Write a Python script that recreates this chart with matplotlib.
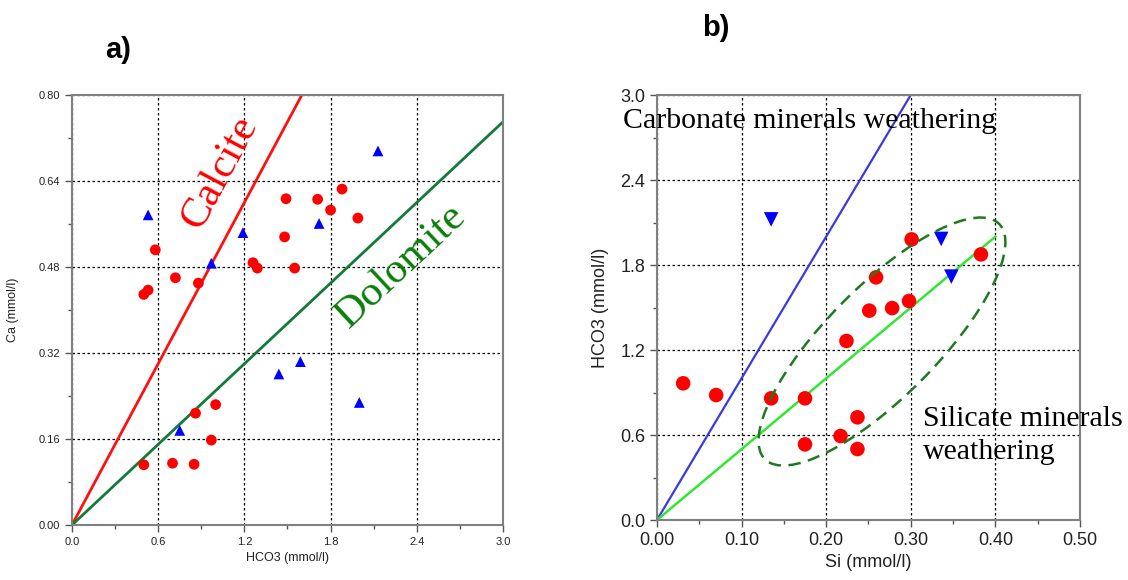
import numpy as np
import matplotlib
matplotlib.use("Agg")
import matplotlib.pyplot as plt
from matplotlib.patches import Ellipse
from matplotlib.ticker import MultipleLocator

plt.rcParams['font.family'] = ['Liberation Sans', 'DejaVu Sans']

# a) Ca vs HCO3
hco3_red = [0.50, 0.70, 0.85, 0.97, 0.86, 1.00, 0.50, 0.53, 0.72, 0.88, 0.58,
            1.26, 1.29, 1.55, 1.48, 1.49, 1.71, 1.88, 1.80, 1.99]
ca_red = [0.112, 0.115, 0.113, 0.158, 0.208, 0.224, 0.429, 0.437, 0.460, 0.450, 0.512,
          0.488, 0.478, 0.478, 0.536, 0.607, 0.606, 0.625, 0.586, 0.571]
hco3_blue = [0.53, 0.97, 1.19, 1.72, 2.13, 0.75, 1.44, 1.59, 2.00]
ca_blue = [0.577, 0.487, 0.544, 0.561, 0.696, 0.176, 0.281, 0.304, 0.228]
calcite_slope = 0.5
dolomite_slope = 0.25

# b) HCO3 vs Si
si_red = [0.031, 0.070, 0.135, 0.175, 0.175, 0.217, 0.237, 0.237, 0.224, 0.251,
          0.278, 0.298, 0.259, 0.301, 0.383]
hco3_b_red = [0.965, 0.882, 0.859, 0.859, 0.534, 0.593, 0.725, 0.501, 1.264, 1.478,
              1.496, 1.546, 1.713, 1.981, 1.875]
si_blue = [0.135, 0.336, 0.348]
hco3_b_blue = [2.122, 1.984, 1.718]
carbonate_slope = 10.0
silicate_slope = 5.0

fig = plt.figure(figsize=(11.28, 5.8), dpi=100)
ax1 = fig.add_axes([0.0638, 0.0948, 0.3821, 0.7414])
ax2 = fig.add_axes([0.5824, 0.1034, 0.3750, 0.7328])


def style_axes(ax, labelsize):
    for sp in ax.spines.values():
        sp.set_color('#808080')
        sp.set_linewidth(1.5)
    ax.grid(True, which='major', color='black', linestyle=(0, (2, 2)), linewidth=0.9)
    ax.tick_params(which='both', direction='out', color='#555555', labelsize=labelsize,
                   labelcolor='#222222')
    ax.tick_params(which='major', length=5, width=1)
    ax.tick_params(which='minor', length=3, width=1)
    ax.set_axisbelow(True)


# panel a
x = np.array([0, 3.0])
ax1.plot(x, calcite_slope * x, color='#ff1010', lw=2, zorder=2)
ax1.plot(x, dolomite_slope * x, color='#137a3a', lw=2, zorder=2)
ax1.scatter(hco3_red, ca_red, s=60, color='#ff0000', edgecolors='none', zorder=3)
ax1.scatter(hco3_blue, ca_blue, s=60, marker='^', color='#0000ff', edgecolors='none', zorder=3)
ax1.set_xlim(0, 3.0)
ax1.set_ylim(0, 0.80)
ax1.xaxis.set_major_locator(MultipleLocator(0.6))
ax1.xaxis.set_minor_locator(MultipleLocator(0.3))
ax1.yaxis.set_major_locator(MultipleLocator(0.16))
ax1.yaxis.set_minor_locator(MultipleLocator(0.08))
ax1.xaxis.set_major_formatter(matplotlib.ticker.FormatStrFormatter('%.1f'))
ax1.yaxis.set_major_formatter(matplotlib.ticker.FormatStrFormatter('%.2f'))
style_axes(ax1, 8)
ax1.set_xlabel('HCO3 (mmol/l)', fontsize=9, color='#222222', labelpad=4)
ax1.set_ylabel('Ca (mmol/l)', fontsize=9, color='#222222', labelpad=14)
ax1.text(1.03, 0.655, 'Calcite', rotation=62, color='#ff0000', fontsize=31,
         family='Liberation Serif', ha='center', va='center', rotation_mode='anchor')
ax1.text(2.29, 0.482, 'Dolomite', rotation=43, color='#0a7d0a', fontsize=31,
         family='Liberation Serif', ha='center', va='center', rotation_mode='anchor')
fig.text(0.105, 0.913, 'a)', fontsize=21, fontweight='bold', ha='center', va='center')

# panel b
xs = np.array([0, 0.4])
ax2.plot([0, 0.3], [0, carbonate_slope * 0.3], color='#3a3ae0', lw=1.6, zorder=2)
ax2.plot(xs, silicate_slope * xs, color='#33e633', lw=1.8, zorder=2)
ax2.scatter(si_red, hco3_b_red, s=110, color='#ff0000', edgecolors='none', zorder=3)
ax2.scatter(si_blue, hco3_b_blue, s=110, marker='v', color='#0000ff', edgecolors='none', zorder=3)
ax2.add_patch(Ellipse((0.532, 0.420), 0.783, 0.261, angle=45, transform=ax2.transAxes,
                      fill=False, edgecolor='#1f7a1f', lw=1.8, linestyle=(0, (5, 3)), zorder=4))
ax2.set_xlim(0, 0.5)
ax2.set_ylim(0, 3.0)
ax2.xaxis.set_major_locator(MultipleLocator(0.1))
ax2.xaxis.set_minor_locator(MultipleLocator(0.05))
ax2.yaxis.set_major_locator(MultipleLocator(0.6))
ax2.yaxis.set_minor_locator(MultipleLocator(0.3))
ax2.xaxis.set_major_formatter(matplotlib.ticker.FormatStrFormatter('%.2f'))
ax2.yaxis.set_major_formatter(matplotlib.ticker.FormatStrFormatter('%.1f'))
style_axes(ax2, 13)
ax2.set_xlabel('Si (mmol/l)', fontsize=13, color='#222222', labelpad=4)
ax2.set_ylabel('HCO3 (mmol/l)', fontsize=13, color='#222222', labelpad=8)
ax2.text(-0.04, 2.82, 'Carbonate minerals weathering', fontsize=21.5,
         family='Liberation Serif', ha='left', va='center', clip_on=False)
ax2.text(0.315, 0.60, 'Silicate minerals\nweathering', fontsize=21.5,
         family='Liberation Serif', ha='left', va='center', linespacing=1.35, clip_on=False)
fig.text(0.635, 0.952, 'b)', fontsize=21, fontweight='bold', ha='center', va='center')

fig.savefig('out.png', dpi=100)
